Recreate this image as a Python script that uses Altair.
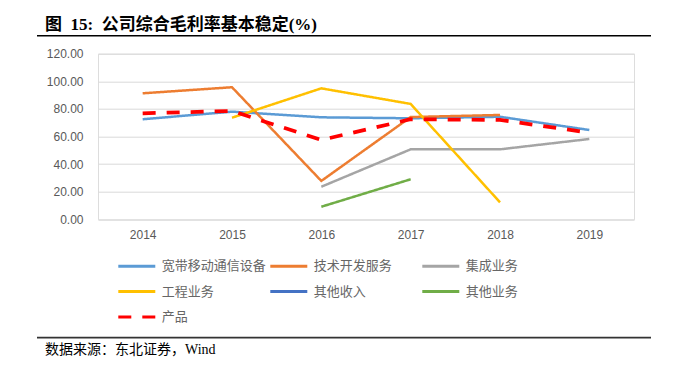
import altair as alt
import pandas as pd

years = ["2014", "2015", "2016", "2017", "2018", "2019"]
series_names = ["宽带移动通信设备", "技术开发服务", "集成业务", "工程业务", "其他收入", "其他业务", "产品"]
broadband = [72.5, 78.0, 73.9, 73.2, 74.3, 64.7]
techdev = [91.3, 95.7, 27.8, 74.1, 75.6, None]
integration = [None, None, 23.6, 50.7, 50.7, 58.2]
engineering = [None, 73.6, 94.9, 83.6, 12.3, None]
other_income = [None, None, None, None, None, None]
other_biz = [None, None, 9.1, 29.0, None, None]
product = [76.8, 78.5, 57.5, 72.5, 72.0, 62.8]
colors = ["#5B9BD5", "#ED7D31", "#A5A5A5", "#FFC000", "#4472C4", "#70AD47", "#FF0000"]
dashes = [[1, 0], [1, 0], [1, 0], [1, 0], [1, 0], [1, 0], [13, 11]]
y_ticks = [0, 20, 40, 60, 80, 100, 120]

title_text = "图\u00a0\u00a015:\u00a0\u00a0公司综合毛利率基本稳定(%)"
source_text = "数据来源：东北证券，Wind"

all_series = [broadband, techdev, integration, engineering, other_income, other_biz, product]
rows = []
for name, vals in zip(series_names, all_series):
    for yr, v in zip(years, vals):
        if v is not None:
            rows.append({"year": yr, "series": name, "value": v})
df = pd.DataFrame(rows)

cjk = "Noto Sans CJK SC"
serif = "Liberation Serif, Noto Sans CJK SC"


def make_legend():
    return alt.Legend(
        orient="none", legendX=20.3, legendY=200.8, columns=3, direction="horizontal",
        gridAlign="all", columnPadding=-2, rowPadding=6.5, symbolType="M-1.15,0H2.55",
        symbolSize=400, symbolStrokeWidth=3, symbolOffset=0, labelOffset=20.4,
        labelFont=cjk, labelFontSize=13, labelColor="#666666", title=None, padding=0,
    )


color_enc = alt.Color(
    "series:N",
    scale=alt.Scale(domain=series_names, range=colors),
    sort=series_names,
    legend=make_legend(),
)
dash_enc = alt.StrokeDash(
    "series:N",
    scale=alt.Scale(domain=series_names, range=dashes),
    sort=series_names,
    legend=make_legend(),
)
x_enc = alt.X(
    "year:O",
    scale=alt.Scale(type="point", padding=0.5, domain=years),
    axis=alt.Axis(title=None, labelAngle=0, domain=False, ticks=False, tickSize=0,
                  labelPadding=10, labelFont="Liberation Sans", labelFontSize=12,
                  labelColor="#595959", grid=False),
)
y_enc = alt.Y(
    "value:Q",
    scale=alt.Scale(domain=[0, 120], nice=False),
    axis=alt.Axis(title=None, values=y_ticks, format=".2f", domain=False, ticks=False,
                  tickSize=0, labelPadding=15, labelFont="Liberation Sans",
                  labelFontSize=12, labelColor="#595959", gridColor="#D9D9D9",
                  gridWidth=1),
)

base = alt.Chart(df)
solid = base.transform_filter(alt.datum.series != "产品").mark_line(strokeWidth=2.5).encode(
    x=x_enc, y=y_enc, color=color_enc, strokeDash=dash_enc, detail="series:N"
)
red = base.transform_filter(alt.datum.series == "产品").mark_line(strokeWidth=3.75).encode(
    x=x_enc, y=y_enc, color=color_enc, strokeDash=dash_enc, detail="series:N"
)

one = pd.DataFrame({"t": [title_text], "s": [source_text]})
top_rule = alt.Chart(one).mark_rule(color="#000000", strokeWidth=1.6).encode(
    x=alt.value(-61), x2=alt.value(553), y=alt.value(-18)
)
bottom_rule = alt.Chart(one).mark_rule(color="#333333", strokeWidth=1.8).encode(
    x=alt.value(-61), x2=alt.value(553), y=alt.value(284)
)
title = alt.Chart(one).mark_text(
    align="left", baseline="middle", font=serif, fontSize=17, fontWeight="bold", color="#000000"
).encode(x=alt.value(-53), y=alt.value(-29), text="t:N")
source = alt.Chart(one).mark_text(
    align="left", baseline="middle", font=serif, fontSize=14, color="#000000"
).encode(x=alt.value(-53), y=alt.value(296.3), text="s:N")

chart = alt.layer(solid, red, top_rule, bottom_rule, title, source).properties(
    width=536, height=165.6,
    padding={"left": 90, "top": 45.7, "right": 39, "bottom": 143.7},
    autosize=alt.AutoSizeParams(type="none"),
).configure_view(stroke=None).configure(background="white")

chart.save("out.html", embed_options={"renderer": "svg", "actions": False})
